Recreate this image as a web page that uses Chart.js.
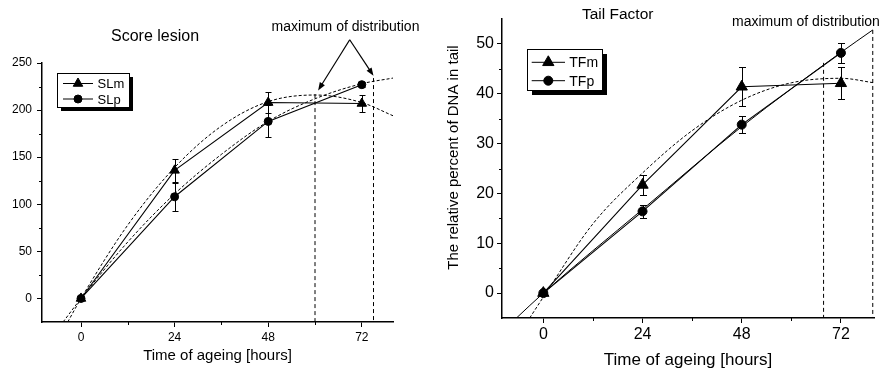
<!DOCTYPE html>
<html>
<head>
<meta charset="utf-8">
<script src="https://cdn.jsdelivr.net/npm/chart.js@4.4.1/dist/chart.umd.min.js"></script>
<style>
  html, body { margin: 0; padding: 0; background: #fff; }
  .row { display: flex; width: 882px; height: 371px; }
  .cell { width: 441px; height: 371px; }
</style>
</head>
<body>
<div class="row">
  <div class="cell"><canvas id="chart-sl" width="441" height="371"></canvas></div>
  <div class="cell"><canvas id="chart-tf" width="441" height="371"></canvas></div>
</div>
<script>
const $ = document.querySelector.bind(document);
const FONT = "'Liberation Sans', Arial, sans-serif";

// ---- Score lesion (left) ----
const hours = [0, 24, 48, 72];
const slm = [0, 136, 208, 207];
const slmErr = [0, 12, 11, 8.5];
const slp = [0, 108, 188, 227];
const slpErr = [0, 15, 17, 3];
// dashed fitted curves
const slmFitX = [-3.4, 0, 12, 24, 36, 48, 60, 72, 80];
const slmFitY = [-25, 0, 78, 139, 183, 209, 216, 208, 194];
const slpFitX = [-4.6, 0, 12, 24, 36, 48, 60, 72, 80];
const slpFitY = [-25, 0, 60, 111, 153, 188, 212, 228, 234];
const slMaxX = [60, 75];
const slMaxTop = [217, 234];
const slXTicks = [0, 24, 48, 72];
const slXMinor = [12, 36, 60];
const slYTicks = [0, 50, 100, 150, 200, 250];
const slYMinor = [25, 75, 125, 175, 225];

// ---- Tail Factor (right) ----
const tfm = [0, 21.7, 41.4, 42.1];
const tfmErr = [0, 2, 3.9, 3.2];
const tfp = [0, 16.4, 33.8, 48.2];
const tfpErr = [0, 1.3, 1.7, 2];
const tfmFitX = [-3.3, 0, 12, 24, 36, 48, 60, 72, 80];
const tfmFitY = [-5, -0.8, 13.9, 24.1, 32.6, 38.7, 42.2, 43.1, 42.2];
const tfpFitX = [-6.5, 0, 24, 48, 72, 79.7];
const tfpFitY = [-5, 0, 16.8, 33.4, 48.3, 52.8];
const tfMaxX = [67.8, 79.7];
const tfMaxTop = [46.2, 52.8];
const tfXTicks = [0, 24, 48, 72];
const tfXMinor = [12, 36, 60];
const tfYTicks = [0, 10, 20, 30, 40, 50];
const tfYMinor = [5, 15, 25, 35, 45];

function xy(xs, ys) {
  return xs.map((x, i) => ({ x, y: ys[i] }));
}

function series(label, ys, errs, style, radius) {
  return {
    label,
    inLegend: true,
    data: xy(hours, ys),
    errors: errs,
    showLine: true,
    borderColor: "#000",
    borderWidth: 1.1,
    pointStyle: style,
    pointRadius: radius,
    pointBorderWidth: 1,
    pointBackgroundColor: "#000",
    pointBorderColor: "#000",
  };
}

function fitCurve(xs, ys, dashed) {
  return {
    data: xy(xs, ys),
    showLine: true,
    borderColor: "#000",
    borderWidth: 1,
    borderDash: dashed ? [3, 2] : [],
    pointRadius: 0,
    cubicInterpolationMode: "monotone",
  };
}

function maxLines(xs, tops, bottom) {
  return xs.map((x, i) => ({
    data: [{ x, y: tops[i] }, { x, y: bottom }],
    showLine: true,
    borderColor: "#000",
    borderWidth: 1,
    borderDash: [4, 3],
    pointRadius: 0,
  }));
}

// error bars drawn under the markers
const errorBars = {
  id: "errorBars",
  beforeDatasetsDraw(chart, args, opts) {
    const { ctx, scales: { x, y } } = chart;
    const w = opts.cap || 3;
    ctx.save();
    ctx.strokeStyle = "#000";
    ctx.lineWidth = 1;
    chart.data.datasets.forEach((ds) => {
      if (!ds.errors) return;
      ds.data.forEach((p, i) => {
        const e = ds.errors[i];
        if (!e) return;
        const px = Math.round(x.getPixelForValue(p.x)) + 0.5;
        const top = Math.round(y.getPixelForValue(p.y + e)) + 0.5;
        const bot = Math.round(y.getPixelForValue(p.y - e)) + 0.5;
        ctx.beginPath();
        ctx.moveTo(px, top);
        ctx.lineTo(px, bot);
        ctx.moveTo(px - w, top);
        ctx.lineTo(px + w, top);
        ctx.moveTo(px - w, bot);
        ctx.lineTo(px + w, bot);
        ctx.stroke();
      });
    });
    ctx.restore();
  },
};

// short unlabeled ticks between the labeled ones
const minorTicks = {
  id: "minorTicks",
  afterDraw(chart, args, opts) {
    const { ctx, chartArea: a, scales: { x, y } } = chart;
    const len = opts.length || 3;
    ctx.save();
    ctx.strokeStyle = "#000";
    ctx.lineWidth = 1;
    ctx.beginPath();
    (opts.x || []).forEach((v) => {
      const px = Math.round(x.getPixelForValue(v)) + 0.5;
      ctx.moveTo(px, a.bottom);
      ctx.lineTo(px, a.bottom + len);
    });
    (opts.y || []).forEach((v) => {
      const py = Math.round(y.getPixelForValue(v)) + 0.5;
      ctx.moveTo(a.left, py);
      ctx.lineTo(a.left - len, py);
    });
    ctx.stroke();
    ctx.restore();
  },
};

function marker(ctx, style, cx, cy, r) {
  ctx.beginPath();
  if (style === "triangle") {
    for (let k = 0; k < 3; k++) {
      const rad = (k * 2 * Math.PI) / 3;
      const px = cx + Math.sin(rad) * r;
      const py = cy - Math.cos(rad) * r;
      k ? ctx.lineTo(px, py) : ctx.moveTo(px, py);
    }
    ctx.closePath();
  } else {
    ctx.arc(cx, cy, r, 0, Math.PI * 2);
  }
  ctx.fill();
  ctx.stroke();
}

// titles, arrows and the boxed legend
const notes = {
  id: "notes",
  afterDraw(chart, args, opts) {
    const { ctx, scales: { x, y } } = chart;
    ctx.save();
    ctx.fillStyle = "#000";
    ctx.strokeStyle = "#000";

    (opts.texts || []).forEach((t) => {
      ctx.save();
      ctx.font = `${t.size}px ${FONT}`;
      ctx.textAlign = t.align || "center";
      ctx.textBaseline = "middle";
      ctx.translate(t.x, t.y);
      if (t.rotate) ctx.rotate(t.rotate);
      ctx.fillText(t.text, 0, 0);
      ctx.restore();
    });

    (opts.arrows || []).forEach((a) => {
      const x0 = x.getPixelForValue(a.from[0]);
      const y0 = y.getPixelForValue(a.from[1]);
      const x1 = x.getPixelForValue(a.to[0]);
      const y1 = y.getPixelForValue(a.to[1]);
      const ang = Math.atan2(y1 - y0, x1 - x0);
      const hl = 8, hw = 3;
      ctx.lineWidth = 1.2;
      ctx.beginPath();
      ctx.moveTo(x0, y0);
      ctx.lineTo(x1 - Math.cos(ang) * hl * 0.8, y1 - Math.sin(ang) * hl * 0.8);
      ctx.stroke();
      ctx.beginPath();
      ctx.moveTo(x1, y1);
      ctx.lineTo(x1 - Math.cos(ang) * hl - Math.sin(ang) * hw, y1 - Math.sin(ang) * hl + Math.cos(ang) * hw);
      ctx.lineTo(x1 - Math.cos(ang) * hl + Math.sin(ang) * hw, y1 - Math.sin(ang) * hl - Math.cos(ang) * hw);
      ctx.closePath();
      ctx.fill();
    });

    const b = opts.legend;
    if (b) {
      ctx.fillRect(b.x + b.shadow, b.y + b.shadow, b.w, b.h);
      ctx.fillStyle = "#fff";
      ctx.fillRect(b.x, b.y, b.w, b.h);
      ctx.lineWidth = 1;
      ctx.strokeRect(b.x + 0.5, b.y + 0.5, b.w, b.h);
      ctx.fillStyle = "#000";
      ctx.font = `${b.size}px ${FONT}`;
      ctx.textAlign = "left";
      ctx.textBaseline = "middle";
      chart.data.datasets
        .filter((ds) => ds.inLegend)
        .forEach((ds, i) => {
          const ry = b.y + b.rows[i];
          ctx.beginPath();
          ctx.moveTo(b.x + b.line[0], ry);
          ctx.lineTo(b.x + b.line[1], ry);
          ctx.stroke();
          marker(ctx, ds.pointStyle, b.x + b.mark, ry, ds.pointRadius);
          ctx.fillText(ds.label, b.x + b.text, ry + 1);
        });
    }
    ctx.restore();
  },
};

function axis(min, max, ticks, fontSize, pad, fit, title) {
  const horizontal = !!fit.height;
  return {
    type: "linear",
    min,
    max,
    grid: {
      display: true,
      drawOnChartArea: false,
      drawTicks: true,
      tickLength: 5,
      color: "#000",
      lineWidth: 1,
    },
    border: { display: true, color: "#000", width: 1.5 },
    ticks: {
      color: "#000",
      font: { family: FONT, size: fontSize },
      padding: pad,
      maxRotation: 0,
      autoSkip: false,
    },
    title: title || { display: false },
    afterBuildTicks: (s) => {
      s.ticks = ticks.map((v) => ({ value: v }));
    },
    afterFit: (s) => {
      if (horizontal) s.height = fit.height;
      else s.width = fit.width;
    },
  };
}

function makeChart(canvas, datasets, cfg) {
  return new Chart(canvas, {
    type: "scatter",
    data: { datasets },
    options: {
      responsive: false,
      animation: false,
      events: [],
      devicePixelRatio: 1,
      layout: { padding: cfg.padding },
      scales: { x: cfg.x, y: cfg.y },
      plugins: {
        legend: { display: false },
        tooltip: { enabled: false },
        errorBars: { cap: cfg.cap },
        minorTicks: cfg.minor,
        notes: cfg.notes,
      },
    },
    plugins: [errorBars, minorTicks, notes],
  });
}

document.addEventListener("DOMContentLoaded", () => {
  makeChart(
    $("#chart-sl"),
    [
      series("SLm", slm, slmErr, "triangle", 5.5),
      series("SLp", slp, slpErr, "circle", 4),
      fitCurve(slmFitX, slmFitY, true),
      fitCurve(slpFitX, slpFitY, true),
      ...maxLines(slMaxX, slMaxTop, -25),
    ],
    {
      padding: { left: 0, right: 48, top: 63, bottom: 0 },
      cap: 3,
      x: axis(-10, 80, slXTicks, 12, 3, { height: 49 }, {
        display: true,
        text: "Time of ageing [hours]",
        color: "#000",
        font: { family: FONT, size: 15 },
        padding: { top: 0, bottom: 6 },
      }),
      y: axis(-25, 250, slYTicks, 12, 5, { width: 42 }),
      minor: { x: slXMinor, y: slYMinor, length: 3 },
      notes: {
        texts: [
          { text: "Score lesion", x: 155, y: 37, size: 16 },
          { text: "maximum of distribution", x: 345.5, y: 27, size: 14 },
        ],
        arrows: [
          { from: [68.9, 274.7], to: [60.8, 220.9] },
          { from: [68.9, 274.7], to: [75, 236.5] },
        ],
        legend: {
          x: 57, y: 73, w: 72, h: 34, shadow: 4, size: 13,
          rows: [10.5, 26], line: [6, 36], mark: 21, text: 40.5,
        },
      },
    }
  );

  makeChart(
    $("#chart-tf"),
    [
      series("TFm", tfm, tfmErr, "triangle", 6.5),
      series("TFp", tfp, tfpErr, "circle", 4.5),
      fitCurve(tfmFitX, tfmFitY, true),
      fitCurve(tfpFitX, tfpFitY, false),
      ...maxLines(tfMaxX, tfMaxTop, -5),
    ],
    {
      padding: { left: 0, right: 8, top: 19, bottom: 0 },
      cap: 3.5,
      x: axis(-10, 80, tfXTicks, 16, 2, { height: 53 }, {
        display: true,
        text: "Time of ageing [hours]",
        color: "#000",
        font: { family: FONT, size: 17, lineHeight: 1 },
        padding: { top: 0, bottom: 2.5 },
      }),
      y: axis(-5, 55, tfYTicks, 16, 3, { width: 61 }),
      minor: { x: tfXMinor, y: tfYMinor, length: 3 },
      notes: {
        texts: [
          { text: "Tail Factor", x: 176.7, y: 15, size: 15.5 },
          { text: "maximum of distribution", x: 291, y: 21.7, size: 14, align: "left" },
          { text: "The relative percent of DNA in tail", x: 13.3, y: 157.5, size: 15, rotate: -Math.PI / 2 },
        ],
        legend: {
          x: 86, y: 49, w: 75, h: 41, shadow: 5, size: 14,
          rows: [13.3, 31.7], line: [4.7, 38], mark: 21.3, text: 42.3,
        },
      },
    }
  );
});
</script>
</body>
</html>
